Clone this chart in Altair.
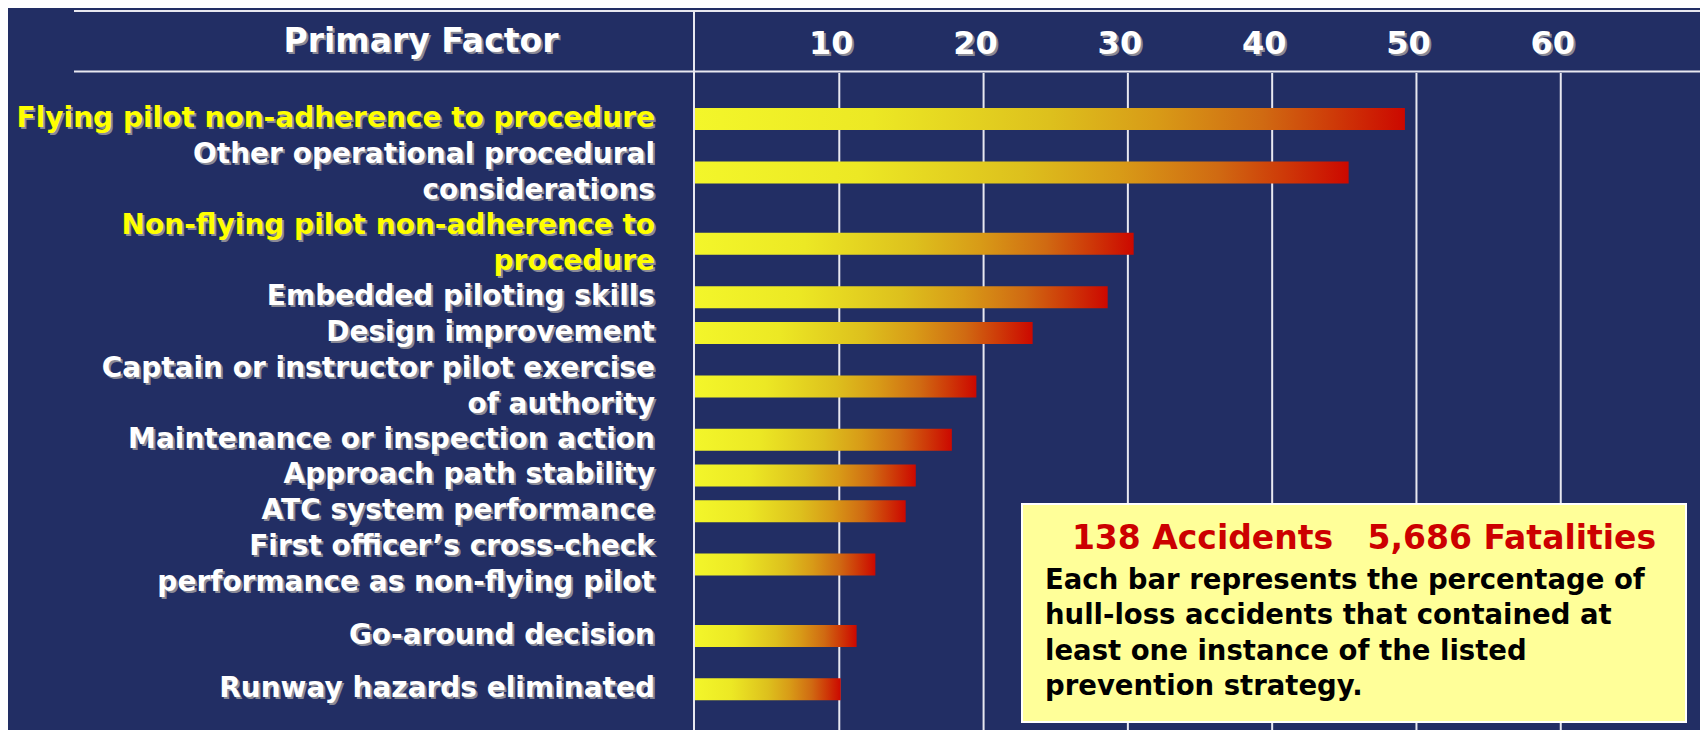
import altair as alt
import pandas as pd

# ---------------- data ----------------
factors = [
    "Flying pilot non-adherence to procedure",
    "Other operational procedural\nconsiderations",
    "Non-flying pilot non-adherence to\nprocedure",
    "Embedded piloting skills",
    "Design improvement",
    "Captain or instructor pilot exercise\nof authority",
    "Maintenance or inspection action",
    "Approach path stability",
    "ATC system performance",
    "First officer\u2019s cross-check\nperformance as non-flying pilot",
    "Go-around decision",
    "Runway hazards eliminated",
]
percentages = [49.2, 45.3, 30.4, 28.6, 23.4, 19.5, 17.8, 15.3, 14.6, 12.5, 11.2, 10.1]
highlighted = [
    "Flying pilot non-adherence to procedure",
    "Non-flying pilot non-adherence to\nprocedure",
]
tick_values = [10, 20, 30, 40, 50, 60]
tick_labels = ["10", "20", "30", "40", "50", "60"]
header_text = "Primary Factor"
box_title = "138 Accidents\u00a0\u00a0\u00a05,686 Fatalities"
box_body = ("Each bar represents the percentage of\n"
            "hull-loss accidents that contained at\n"
            "least one instance of the listed\n"
            "prevention strategy.")

# ---------------- layout / style ----------------
FONT = "DejaVu Sans"
BG = "#222E64"
LINE = "#E8E8F0"
SHADOW = "#8A8A96"
YELLOW = "#FFFF00"
WHITE = "#FFFFFF"
extra_gap_lines = {"Go-around decision": 0.5, "Runway hazards eliminated": 0.5}

W, H = 1005, 722
Y_DOMAIN = [-2.975, 17.0]
LINE_PITCH = H / (Y_DOMAIN[1] - Y_DOMAIN[0])

# row slots (in text-line units) derived from the number of lines in each label
centers, starts = [], []
cursor = 0.0
for lab in factors:
    n = lab.count("\n") + 1
    cursor += extra_gap_lines.get(lab, 0.0)
    starts.append(cursor)
    centers.append(cursor + (n - 1) / 2.0)
    cursor += n

df = pd.DataFrame({"label": factors, "value": percentages,
                   "slot": centers, "text_slot": starts})
df["highlight"] = df["label"].isin(highlighted)
ticks = pd.DataFrame({"tick": tick_values, "text": tick_labels})
one = pd.DataFrame({"a": [0]})

xscale = alt.Scale(domain=[0, 69.65], nice=False, zero=False)
yscale = alt.Scale(domain=Y_DOMAIN, reverse=True, nice=False, zero=False)

X = alt.X("value:Q", scale=xscale, axis=None)
Y = alt.Y("slot:Q", scale=yscale, axis=None)
YT = alt.Y("text_slot:Q", scale=yscale, axis=None)

# frame lines
top_line = alt.Chart(one).mark_rule(color=LINE, strokeWidth=2).encode(
    x=alt.value(-621), x2=alt.value(W), y=alt.value(3))
header_line = alt.Chart(one).mark_rule(color=LINE, strokeWidth=2).encode(
    x=alt.value(-621), x2=alt.value(W), y=alt.value(63.5))
divider = alt.Chart(one).mark_rule(color=LINE, strokeWidth=2).encode(
    x=alt.value(-1), y=alt.value(3), y2=alt.value(H))

grid = alt.Chart(ticks).mark_rule(color=LINE, strokeWidth=2).encode(
    x=alt.X("tick:Q", scale=xscale, axis=None),
    y=alt.value(65), y2=alt.value(H))

gradient = alt.Gradient(
    gradient="linear",
    stops=[
        alt.GradientStop(color="#F3F62A", offset=0),
        alt.GradientStop(color="#ECE824", offset=0.25),
        alt.GradientStop(color="#DDC01D", offset=0.5),
        alt.GradientStop(color="#D89B17", offset=0.65),
        alt.GradientStop(color="#D06A12", offset=0.8),
        alt.GradientStop(color="#CE3A08", offset=0.9),
        alt.GradientStop(color="#CC0800", offset=1),
    ],
    x1=0, x2=1, y1=0, y2=0,
)
bars = alt.Chart(df).mark_bar(orient="horizontal", size=22, color=gradient).encode(
    x=X, x2=alt.datum(0), y=Y)

label_shadow = alt.Chart(df).mark_text(
    font=FONT, fontWeight="bold", fontSize=28, align="right", baseline="middle",
    lineBreak="\n", lineHeight=LINE_PITCH, color=SHADOW, dx=2, dy=2).encode(
    x=alt.value(-40), y=YT, text="label:N")
labels = alt.Chart(df).mark_text(
    font=FONT, fontWeight="bold", fontSize=28, align="right", baseline="middle",
    lineBreak="\n", lineHeight=LINE_PITCH).encode(
    x=alt.value(-40), y=YT, text="label:N",
    color=alt.condition("datum.highlight", alt.value(YELLOW), alt.value(WHITE)))

tick_shadow = alt.Chart(ticks).mark_text(
    font=FONT, fontWeight="bold", fontSize=32, align="center", baseline="middle",
    color=SHADOW, dx=-6, dy=2).encode(
    x=alt.X("tick:Q", scale=xscale, axis=None), y=alt.value(36), text="text:N")
tick_text = alt.Chart(ticks).mark_text(
    font=FONT, fontWeight="bold", fontSize=32, align="center", baseline="middle",
    color=WHITE, dx=-8).encode(
    x=alt.X("tick:Q", scale=xscale, axis=None), y=alt.value(36), text="text:N")

head_shadow = alt.Chart(one).mark_text(
    font=FONT, fontWeight="bold", fontSize=33, align="center", baseline="middle",
    color=SHADOW, text=header_text).encode(x=alt.value(-272), y=alt.value(35.5))
head = alt.Chart(one).mark_text(
    font=FONT, fontWeight="bold", fontSize=33, align="center", baseline="middle",
    color=WHITE, text=header_text).encode(x=alt.value(-274), y=alt.value(33.5))

box = alt.Chart(one).mark_rect(fill="#FFFF99", stroke="#FFFFFF", strokeWidth=2).encode(
    x=alt.value(327), x2=alt.value(991), y=alt.value(496), y2=alt.value(714))
box_head = alt.Chart(one).mark_text(
    font=FONT, fontWeight="bold", fontSize=33, align="center", baseline="middle",
    color="#CC0000", text=box_title).encode(x=alt.value(669), y=alt.value(531))
box_text = alt.Chart(one).mark_text(
    font=FONT, fontWeight="bold", fontSize=27.5, align="left", baseline="middle",
    lineBreak="\n", lineHeight=35.3, color="#000000", text=box_body).encode(
    x=alt.value(350), y=alt.value(573))

chart = alt.layer(
    top_line, header_line, divider, grid, bars,
    label_shadow, labels, tick_shadow, tick_text, head_shadow, head,
    box, box_head, box_text,
).properties(
    width=W, height=H,
    autosize=alt.AutoSizeParams(type="none"),
    padding={"left": 687, "top": 0, "right": 0, "bottom": 0},
    background=BG,
).configure_view(strokeWidth=0)

chart.save("out.html", embed_options={"renderer": "svg", "actions": False})
